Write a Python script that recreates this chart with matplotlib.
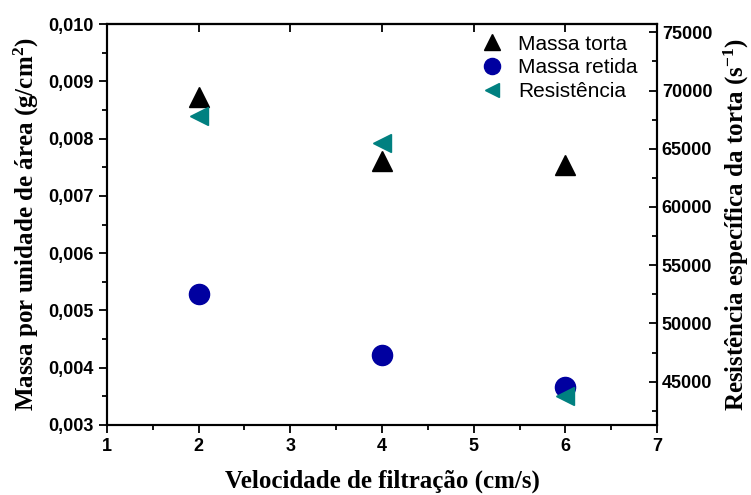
import numpy as np
import matplotlib
matplotlib.use("Agg")
import matplotlib.pyplot as plt
from matplotlib.ticker import MultipleLocator, FuncFormatter

# valores
velocidade = [2, 4, 6]
massa_torta = [0.00873, 0.00760, 0.00753]
massa_retida = [0.00528, 0.00422, 0.00366]
resistencia = [67850, 65500, 43800]

plt.rcParams['mathtext.fontset'] = 'custom'
plt.rcParams['mathtext.rm'] = 'Liberation Serif:bold'
plt.rcParams['mathtext.default'] = 'rm'

fig = plt.figure(figsize=(7.51, 4.95), dpi=100)
ax = fig.add_axes([107/751, 70/495, 550/751, 401/495])
ax2 = ax.twinx()

h1, = ax.plot(velocidade, massa_torta, ls='none', marker='^', ms=14.5, color='black', label='Massa torta')
h2, = ax.plot(velocidade, massa_retida, ls='none', marker='o', ms=14.5, color='#0000a0', label='Massa retida')
h3, = ax2.plot(velocidade, resistencia, ls='none', marker='<', ms=13, color='#008080', label='Resist\u00eancia')

ax.set_xlim(1, 7)
ax.set_ylim(0.003, 0.010)
ax2.set_ylim(41280, 75710)

tick_font = dict(family='Liberation Sans', weight='bold', size=13)
ax.xaxis.set_major_locator(MultipleLocator(1))
ax.xaxis.set_minor_locator(MultipleLocator(0.5))
ax.yaxis.set_major_locator(MultipleLocator(0.001))
ax.yaxis.set_minor_locator(MultipleLocator(0.0005))
ax.yaxis.set_major_formatter(FuncFormatter(lambda v, p: f"{v:.3f}".replace('.', ',')))
ax2.yaxis.set_major_locator(MultipleLocator(5000))
ax2.yaxis.set_minor_locator(MultipleLocator(2500))
ax2.yaxis.set_major_formatter(FuncFormatter(lambda v, p: f"{v:.0f}"))

ax.tick_params(axis='both', which='major', direction='out', length=6, width=1.3, top=False, right=False)
ax.tick_params(axis='both', which='minor', direction='out', length=3.5, width=1.3, top=False, right=False)
ax2.tick_params(axis='y', which='major', direction='in', length=6, width=1.3)
ax2.tick_params(axis='y', which='minor', direction='in', length=3.5, width=1.3)

topax = ax.secondary_xaxis('top')
topax.xaxis.set_major_locator(MultipleLocator(1))
topax.tick_params(direction='in', length=6, width=1.3, labeltop=False)

for a in (ax, ax2):
    for lab in a.get_xticklabels() + a.get_yticklabels():
        lab.set_fontproperties(matplotlib.font_manager.FontProperties(**tick_font))
    for s in a.spines.values():
        s.set_linewidth(1.5)
topax.spines['top'].set_linewidth(1.5)

label_font = dict(family='Liberation Serif', weight='bold', size=18)
ax.set_xlabel('Velocidade de filtra\u00e7\u00e3o (cm/s)', labelpad=10, **label_font)
ax.set_ylabel('Massa por unidade de \u00e1rea (g/cm$^2$)', labelpad=5, **label_font)
ax2.set_ylabel('Resist\u00eancia espec\u00edfica da torta (s$^{-1}$)', labelpad=7, **label_font)

ax.legend(handles=[h1, h2, h3], loc='upper right', bbox_to_anchor=(0.995, 1.015), frameon=False,
          prop=dict(family='Liberation Sans', size=15), handletextpad=0.5, labelspacing=0.22,
          borderpad=0.3, handlelength=1.5, markerscale=0.8)

fig.savefig('out.png', dpi=100)
